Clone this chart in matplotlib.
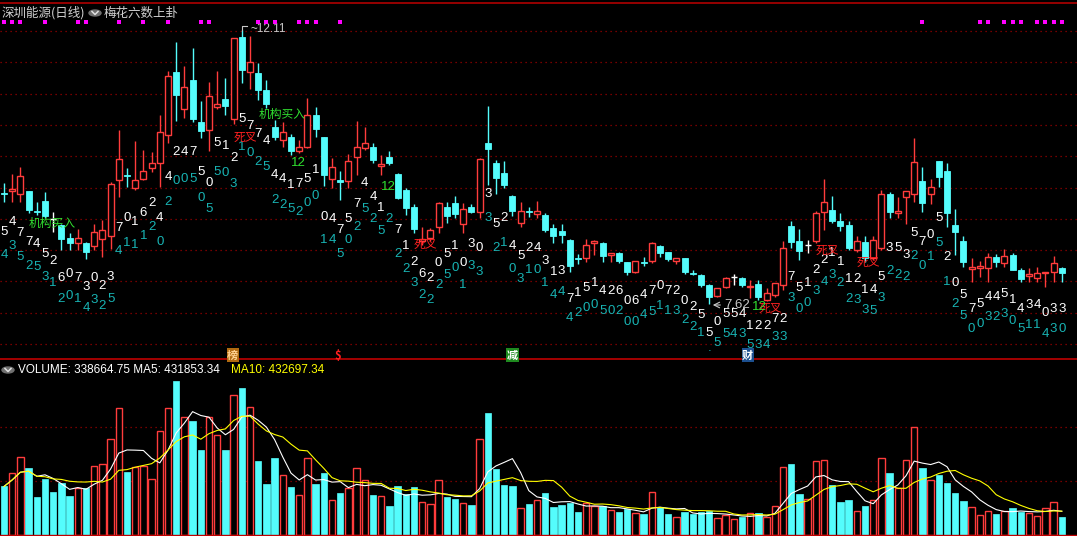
import matplotlib
matplotlib.use("Agg")
import matplotlib.pyplot as plt
from matplotlib.patches import Rectangle, Circle
from matplotlib.lines import Line2D
import numpy as np
import pandas as pd

plt.rcParams['font.family'] = ['Noto Sans CJK SC', 'DejaVu Sans']

# daily OHLC
opens = [10.48, 10.50, 10.47, 10.50, 10.30, 10.40, 10.22, 10.16, 10.03, 9.98,
         9.98, 9.95, 10.02, 10.05, 10.61, 10.66, 10.53, 10.62, 10.73, 10.78,
         11.06, 11.69, 11.32, 11.61, 11.19, 11.11, 11.34, 11.42, 11.22, 12.04,
         11.69, 11.68, 11.51, 11.14, 11.01, 11.04, 10.90, 10.94, 11.26, 11.04,
         10.62, 10.61, 10.60, 10.84, 10.93, 10.94, 10.75, 10.84, 10.67, 10.51,
         10.34, 10.00, 10.03, 10.14, 10.34, 10.38, 10.17, 10.34, 10.29, 10.98,
         10.78, 10.68, 10.45, 10.18, 10.30, 10.27, 10.26, 10.13, 10.10, 10.01,
         9.83, 9.83, 9.98, 9.98, 9.86, 9.88, 9.79, 9.69, 9.79, 9.80,
         9.95, 9.89, 9.80, 9.83, 9.68, 9.66, 9.56, 9.45, 9.54, 9.64,
         9.63, 9.54, 9.57, 9.41, 9.46, 9.56, 10.15, 10.00, 9.96, 10.00,
         10.29, 10.31, 10.20, 10.16, 9.91, 9.99, 9.83, 9.93, 10.47, 10.28,
         10.44, 10.47, 10.60, 10.47, 10.80, 10.70, 10.16, 10.00, 9.72, 9.73,
         9.73, 9.84, 9.78, 9.86, 9.71, 9.65, 9.63, 9.68, 9.69, 9.73]
highs = [10.58, 10.67, 10.74, 10.50, 10.39, 10.49, 10.29, 10.17, 10.08, 10.12,
         9.99, 10.17, 10.21, 10.59, 11.11, 10.73, 11.00, 10.91, 10.89, 11.26,
         11.70, 11.99, 11.75, 11.93, 11.40, 11.59, 11.70, 11.63, 12.03, 12.11,
         12.05, 11.78, 11.61, 11.21, 11.19, 11.07, 11.01, 11.43, 11.34, 11.04,
         10.83, 10.70, 10.87, 11.20, 11.14, 10.98, 10.86, 10.90, 10.68, 10.53,
         10.37, 10.14, 10.13, 10.39, 10.39, 10.45, 10.38, 10.37, 10.83, 11.35,
         10.81, 10.80, 10.46, 10.39, 10.34, 10.40, 10.28, 10.17, 10.17, 10.02,
         9.87, 10.02, 10.01, 9.99, 9.88, 9.89, 9.79, 9.80, 9.84, 9.99,
         9.96, 9.89, 9.83, 9.83, 9.71, 9.67, 9.57, 9.53, 9.64, 9.67,
         9.64, 9.61, 9.61, 9.53, 9.57, 10.00, 10.20, 10.12, 10.01, 10.30,
         10.62, 10.45, 10.28, 10.20, 10.05, 10.05, 10.05, 10.51, 10.49, 10.44,
         10.50, 11.03, 10.74, 10.62, 10.80, 10.78, 10.32, 10.05, 9.83, 9.80,
         9.88, 9.87, 9.92, 9.88, 9.73, 9.73, 9.74, 9.69, 9.85, 9.74]
lows = [10.39, 10.39, 10.39, 10.28, 10.26, 10.23, 10.09, 9.91, 9.91, 9.91,
        9.82, 9.91, 9.84, 9.92, 10.44, 10.54, 10.51, 10.61, 10.69, 10.54,
        10.98, 11.20, 11.23, 11.19, 11.03, 10.90, 11.32, 11.26, 11.17, 11.58,
        11.52, 11.41, 11.33, 11.01, 10.94, 10.86, 10.88, 10.93, 11.04, 10.55,
        10.53, 10.41, 10.53, 10.66, 10.91, 10.78, 10.66, 10.76, 10.42, 10.26,
        10.08, 9.96, 10.00, 10.08, 10.18, 10.23, 10.08, 10.28, 10.23, 10.56,
        10.47, 10.53, 10.25, 10.14, 10.24, 10.23, 10.09, 9.98, 9.98, 9.69,
        9.77, 9.79, 9.86, 9.79, 9.79, 9.78, 9.66, 9.68, 9.75, 9.78,
        9.84, 9.80, 9.77, 9.67, 9.66, 9.54, 9.37, 9.44, 9.53, 9.56,
        9.54, 9.43, 9.41, 9.40, 9.44, 9.51, 9.93, 9.81, 9.88, 9.98,
        10.11, 10.18, 10.10, 9.91, 9.89, 9.79, 9.81, 9.91, 10.23, 10.23,
        10.17, 10.39, 10.29, 10.37, 10.54, 10.14, 9.86, 9.74, 9.59, 9.64,
        9.59, 9.74, 9.74, 9.71, 9.59, 9.59, 9.59, 9.54, 9.59, 9.59]
closes = [10.47, 10.52, 10.65, 10.31, 10.29, 10.25, 10.22, 10.02, 9.98, 10.03,
          9.89, 10.09, 10.11, 10.57, 10.82, 10.65, 10.61, 10.70, 10.78, 11.09,
          11.65, 11.46, 11.54, 11.22, 11.10, 11.45, 11.37, 11.35, 12.03, 11.71,
          11.79, 11.51, 11.37, 11.04, 11.09, 10.90, 10.94, 11.26, 11.12, 10.66,
          10.74, 10.59, 10.80, 10.94, 10.98, 10.81, 10.77, 10.78, 10.43, 10.33,
          10.12, 10.02, 10.11, 10.38, 10.25, 10.27, 10.32, 10.29, 10.82, 10.92,
          10.63, 10.56, 10.30, 10.30, 10.29, 10.30, 10.11, 10.05, 10.06, 9.75,
          9.82, 9.96, 10.00, 9.85, 9.88, 9.80, 9.69, 9.80, 9.78, 9.98,
          9.88, 9.82, 9.83, 9.69, 9.67, 9.56, 9.44, 9.53, 9.63, 9.64,
          9.56, 9.55, 9.44, 9.48, 9.58, 9.93, 9.99, 9.90, 9.96, 10.28,
          10.39, 10.20, 10.15, 9.93, 10.00, 9.83, 10.01, 10.47, 10.29, 10.30,
          10.50, 10.79, 10.38, 10.54, 10.64, 10.28, 10.09, 9.79, 9.74, 9.75,
          9.84, 9.79, 9.85, 9.71, 9.62, 9.67, 9.68, 9.69, 9.78, 9.68]
volumes = [899000, 1141000, 1448000, 1243000, 708000, 1033000, 803000, 957000, 727000, 874000,
           874000, 1275000, 1314000, 1773000, 2347000, 1167000, 1256000, 1282000, 1046000, 1926000,
           2347000, 2851000, 2194000, 2104000, 1569000, 2194000, 1849000, 1569000, 2595000, 2717000,
           2366000, 1377000, 937000, 1435000, 1103000, 880000, 740000, 1428000, 937000, 1148000,
           644000, 784000, 874000, 1237000, 1027000, 746000, 721000, 536000, 899000, 765000,
           880000, 606000, 568000, 1027000, 708000, 670000, 587000, 555000, 1773000, 2257000,
           1224000, 918000, 899000, 491000, 574000, 644000, 784000, 517000, 555000, 593000,
           421000, 593000, 529000, 529000, 459000, 421000, 478000, 402000, 383000, 797000,
           517000, 383000, 338000, 421000, 383000, 421000, 440000, 319000, 376000, 300000,
           325000, 402000, 402000, 338000, 529000, 1256000, 1320000, 765000, 663000, 1371000,
           1390000, 918000, 612000, 650000, 453000, 536000, 644000, 1428000, 1148000, 874000,
           1390000, 2002000, 1243000, 1014000, 1110000, 957000, 784000, 631000, 510000, 376000,
           453000, 383000, 453000, 497000, 434000, 402000, 357000, 491000, 606000, 338664.75]

# 梅花六数 digits: upper (white) and lower (teal) number per day, with their price level
upper_digits = (list("5477452607302370162442475051257744417510" "4757441") + [""] +
                list("7126205103" "0352452431" "3715142606" "4707202550"
                     "5541227275" "1221112145" "3535705205" "754451434033"))
upper_level = [10.09, 10.19, 10.08, 9.99, 9.97, 9.87, 9.80, 9.63, 9.67, 9.63,
               9.54, 9.63, 9.55, 9.64, 10.13, 10.23, 10.19, 10.28, 10.38, 10.23,
               10.64, 10.89, 10.89, 10.89, 10.69, 10.58, 10.98, 10.95, 10.83, 11.22,
               11.15, 11.07, 11.00, 10.66, 10.62, 10.56, 10.57, 10.62, 10.71, 10.24,
               10.22, 10.11, 10.22, 10.37, 10.58, 10.44, 10.33, 10.44, 10.11, 9.95,
               9.79, 9.67, 9.63, 9.78, 9.87, 9.95, 9.78, 9.97, 9.93, 10.47,
               10.17, 10.23, 9.95, 9.85, 9.93, 9.93, 9.80, 9.69, 9.70, 9.42,
               9.48, 9.53, 9.58, 9.50, 9.50, 9.50, 9.40, 9.40, 9.46, 9.50,
               9.55, 9.50, 9.50, 9.40, 9.34, 9.26, 9.08, 9.19, 9.27, 9.27,
               9.27, 9.15, 9.15, 9.15, 9.22, 9.22, 9.64, 9.53, 9.58, 9.71,
               9.81, 9.88, 9.79, 9.62, 9.62, 9.51, 9.51, 9.64, 9.93, 9.93,
               9.86, 10.08, 9.99, 10.06, 10.23, 9.84, 9.58, 9.46, 9.32, 9.37,
               9.44, 9.44, 9.47, 9.41, 9.32, 9.36, 9.36, 9.28, 9.32, 9.32]
lower_digits = list("4352531201" "4325411120" "2005055031" "0252252001" "4502525222"
                    "3222501333" "2103101444" "2005020045" "113221.554" "3534333003"
                    "4322335322" "2201512500" "3230511430")
lower_level = [9.86, 9.95, 9.84, 9.75, 9.74, 9.64, 9.58, 9.42, 9.45, 9.42,
               9.33, 9.41, 9.35, 9.42, 9.90, 9.98, 9.96, 10.05, 10.14, 9.99,
               10.39, 10.60, 10.62, 10.62, 10.43, 10.32, 10.69, 10.68, 10.57, 10.94,
               10.88, 10.79, 10.74, 10.41, 10.36, 10.32, 10.29, 10.38, 10.45, 10.01,
               10.01, 9.87, 10.01, 10.14, 10.32, 10.22, 10.10, 10.22, 9.87, 9.72,
               9.58, 9.46, 9.41, 9.56, 9.66, 9.73, 9.56, 9.75, 9.69, 10.23,
               9.93, 9.98, 9.72, 9.62, 9.71, 9.71, 9.58, 9.46, 9.49, 9.23,
               9.28, 9.33, 9.36, 9.30, 9.30, 9.30, 9.19, 9.19, 9.26, 9.29,
               9.35, 9.30, 9.30, 9.21, 9.14, 9.08, 8.93, 8.98, 9.07, 9.07,
               9.07, 8.96, 8.96, 8.96, 9.04, 9.04, 9.43, 9.32, 9.38, 9.50,
               9.59, 9.66, 9.58, 9.42, 9.41, 9.31, 9.30, 9.43, 9.70, 9.66,
               9.64, 9.85, 9.75, 9.84, 9.98, 9.59, 9.37, 9.25, 9.12, 9.17,
               9.24, 9.24, 9.27, 9.20, 9.12, 9.16, 9.16, 9.07, 9.12, 9.12]

signal_days = [0, 1, 2, 5, 9, 10, 14, 17, 20, 24, 25, 31, 32, 33, 36, 37, 38, 41,
               112, 119, 120, 122, 123, 124, 126, 127, 128, 129]

# text marks on the price panel: (day, price)
buy_marks = [(3.0, 10.18), (31.0, 11.27)]
cross_marks = [(28.0, 11.04), (50.0, 9.97), (92.0, 9.33), (99.0, 9.91), (104.0, 9.79)]
twelve_marks = [(35.0, 10.78), (46.0, 10.54), (91.2, 9.34)]
events = [(27.9, "榜", '#b06a10', '#ffd090'), (40.7, "$", None, '#ff2020'),
          (62.0, "减", '#1f8a1f', '#ffffff'), (90.7, "财", '#1c4f8f', '#ffffff')]

title = "深圳能源(日线)"
indicator = "梅花六数上卦"
high_label = "12.11"
low_label = "7.62"

UP = '#ff3c3c'
DOWN = '#54fcfc'
GRID = '#9a0000'
TEAL = '#18b4b4'
NUMF = ['Liberation Sans', 'DejaVu Sans']

o = np.array(opens); h = np.array(highs); l = np.array(lows); c = np.array(closes)
n = len(c)
x = np.arange(n)
prev = np.r_[c[0], c[:-1]]
up = (c > o) | ((c == o) & (c >= prev))
flat = c == o

W, H = 1077, 536
fig = plt.figure(figsize=(W / 100, H / 100), dpi=100, facecolor='black')
ax = fig.add_axes([0, 176 / H, 1, 360 / H])
axv = fig.add_axes([0, 0, 1, 174 / H])

xl = (-4 / 8.2, (W - 4) / 8.2)
for a in (ax, axv):
    a.set_facecolor('black')
    a.set_xlim(*xl)
    for s in a.spines.values():
        s.set_visible(False)
    a.set_xticks([])
    a.set_yticks([])

# price panel
ax.set_ylim(12.41 - 3.60, 12.41)
for g in np.arange(12.10, 8.9, -0.313):
    ax.axhline(g, color=GRID, lw=0.9, ls=(0, (1, 3)), zorder=0)

bw = 0.72
for i in range(n):
    if flat[i]:
        col = '#ffffff'
    else:
        col = UP if up[i] else DOWN
    ax.vlines(x[i], l[i], h[i], color=col, lw=1, zorder=2)
    lo, hi = min(o[i], c[i]), max(o[i], c[i])
    if flat[i]:
        ax.hlines(o[i], x[i] - bw / 2, x[i] + bw / 2, color=col, lw=1, zorder=3)
    elif up[i]:
        ax.add_patch(Rectangle((x[i] - bw / 2, lo), bw, hi - lo, facecolor='black',
                               edgecolor=col, lw=1, zorder=3))
    else:
        ax.add_patch(Rectangle((x[i] - bw / 2, lo), bw, max(hi - lo, 0.01), facecolor=col,
                               edgecolor=col, lw=0.6, zorder=3))

# indicator digits
for i in range(n):
    ax.text(x[i], upper_level[i], upper_digits[i], color='white', fontsize=9.5,
            ha='center', va='center', family=NUMF, zorder=5)
    ax.text(x[i], lower_level[i], lower_digits[i], color=TEAL, fontsize=9.5,
            ha='center', va='center', family=NUMF, zorder=5)

# top signal dots
ax.scatter(signal_days, [12.19] * len(signal_days), s=5, marker='s', color='#ff00ff',
           linewidths=0, zorder=4)

# high / low markers
ih = int(np.argmax(h))
ax.plot([ih, ih, ih + 0.6], [h[ih], h[ih] + 0.04, h[ih] + 0.04], color='#c8c8c8', lw=0.8)
ax.text(ih + 1.1, h[ih] + 0.01, "~" + high_label, color='#c8c8c8', fontsize=8.5,
        va='center', ha='left', family=NUMF)
il = int(np.argmin(l))
ax.annotate("", xy=(il + 0.1, l[il] - 0.01), xytext=(il + 1.7, l[il] - 0.01),
            arrowprops=dict(arrowstyle='->', color='#c8c8c8', lw=0.8))
ax.text(il + 1.8, l[il] - 0.01, low_label, color='#c8c8c8', fontsize=9.5,
        va='center', ha='left', family=NUMF, zorder=6)

# labels
for xi, yi in buy_marks:
    ax.text(xi, yi, "机构买入", color='#30e030', fontsize=8.5, va='center', zorder=6)
for xi, yi in cross_marks:
    ax.text(xi, yi, "死叉", color='#ff2020', fontsize=8.5, va='center', zorder=6)
for xi, yi in twelve_marks:
    ax.text(xi, yi, "12", color='#30e030', fontsize=9.5, va='center', zorder=6,
            family=NUMF)
for xi, ch, bg, fg in events:
    kw = dict(boxstyle='square,pad=0.05', fc=bg, ec='none') if bg else None
    ax.text(xi, 8.86, ch, color=fg, fontsize=8, ha='center', va='center',
            bbox=kw, zorder=6, fontweight='bold')

ax.axhline(8.81 + 0.005, color='#c00000', lw=1.2)

# volume panel
vol = np.array(volumes)
axv.set_ylim(-18519, 3.204e6)
for g in (1e6, 2e6):
    axv.axhline(g, color=GRID, lw=0.9, ls=(0, (1, 3)), zorder=0)
vw = 0.8
for i in range(n):
    if up[i]:
        axv.add_patch(Rectangle((x[i] - vw / 2, 0), vw, vol[i], facecolor='black',
                                edgecolor=UP, lw=1, zorder=2))
    else:
        axv.add_patch(Rectangle((x[i] - vw / 2, 0), vw, vol[i], facecolor=DOWN,
                                edgecolor=DOWN, lw=0.5, zorder=2))
ma5 = pd.Series(vol).rolling(5, min_periods=1).mean()
ma10 = pd.Series(vol).rolling(10, min_periods=1).mean()
axv.plot(x, ma5, color='white', lw=0.8, zorder=3)
axv.plot(x, ma10, color='#ffff00', lw=0.8, zorder=3)
axv.axhline(-9000, color='#c00000', lw=1.0)


def px(xp, yp):
    return xp / W, 1 - yp / H


# header
fig.text(*px(2, 13), title, color='#d0d0d0', fontsize=9, va='center', ha='left')
fig.text(*px(104, 13), indicator, color='#d0d0d0', fontsize=9, va='center', ha='left')
fig.add_artist(Line2D([0, 1], [1 - 3 / H, 1 - 3 / H], color='#b00000', lw=1.2))


def icon(xc, yc):
    fig.add_artist(Circle(px(xc, yc), 6 / W, transform=fig.transFigure, color='#707070'))
    fig.add_artist(Line2D([(xc - 3) / W, xc / W, (xc + 3) / W],
                          [1 - (yc - 1.5) / H, 1 - (yc + 1.5) / H, 1 - (yc - 1.5) / H],
                          color='#e0e0e0', lw=1.1))


icon(95, 13)
icon(8, 370)
fig.text(*px(18, 370), "VOLUME: %.2f MA5: %.2f" % (vol[-1], 431853.34), color='white',
         fontsize=8.5, va='center', ha='left', family=NUMF)
fig.text(*px(231, 370), "MA10: %.2f" % 432697.34, color='#ffff00',
         fontsize=8.5, va='center', ha='left', family=NUMF)

fig.savefig("out.png", dpi=100, facecolor='black')
